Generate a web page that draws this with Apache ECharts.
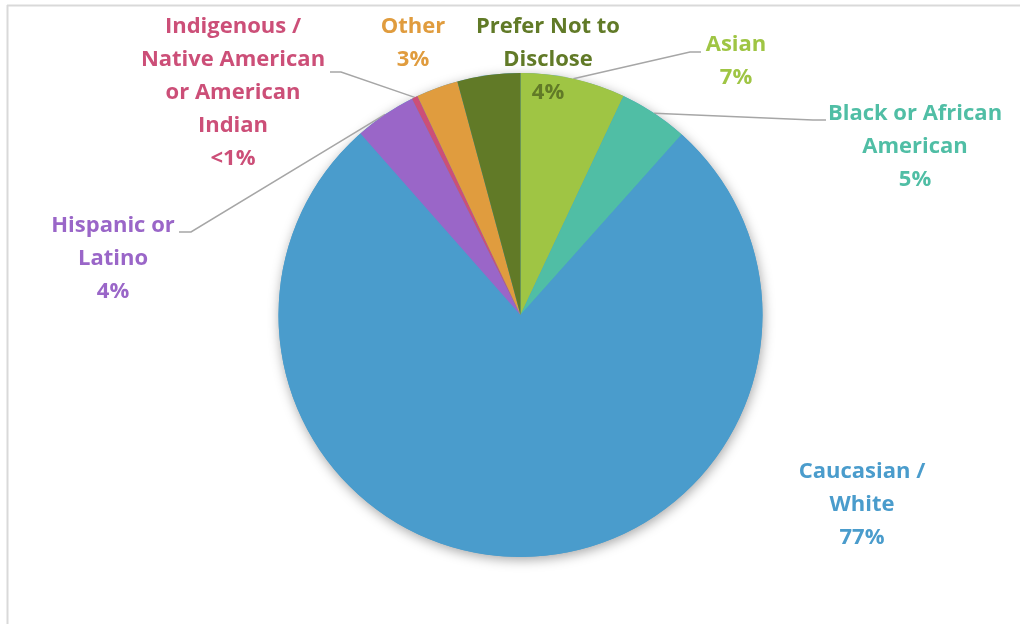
<!DOCTYPE html>
<html>
<head>
<meta charset="utf-8">
<title>Race / Ethnicity</title>
<script src="https://cdn.jsdelivr.net/npm/echarts@6/dist/echarts.min.js"></script>
<style>
  html, body { margin: 0; padding: 0; background: #ffffff; }
  #chart { width: 1020px; height: 624px; }
</style>
</head>
<body>
<div id="chart"></div>
<script>
// Groups in clockwise order starting at 12 o'clock
const categories = [
  'Asian',
  'Black or African American',
  'Caucasian / White',
  'Hispanic or Latino',
  'Indigenous / Native American or American Indian',
  'Other',
  'Prefer Not to Disclose'
];
// Share of respondents, percent
const shares = [7.0, 4.6, 76.9, 4.1, 0.4, 2.8, 4.2];
// Label wording with its line breaks
const labelTexts = [
  'Asian',
  'Black or African\nAmerican',
  'Caucasian /\nWhite',
  'Hispanic or\nLatino',
  'Indigenous /\nNative American\nor American\nIndian',
  'Other',
  'Prefer Not to\nDisclose'
];
const sliceColors = ['#9fc544', '#50bea5', '#4a9ccc', '#9a66c8', '#cc4f78', '#e09c3e', '#617a27'];

// Where each label block sits (centre of the text block)
const labelSpots = {
  'Asian': { x: 736, y: 61.5 },
  'Black or African American': { x: 915, y: 146.5 },
  'Caucasian / White': { x: 862, y: 504.5 },
  'Hispanic or Latino': { x: 113, y: 258.5 },
  'Indigenous / Native American or American Indian': { x: 233, y: 92.5 },
  'Other': { x: 413, y: 43 },
  'Prefer Not to Disclose': { x: 548, y: 59.5 }
};
// Elbow and end of each leader line (starting point comes from the slice edge)
const leaderEnds = {
  'Asian': [[690, 52], [701, 52]],
  'Black or African American': [[813, 120], [826, 120]],
  'Hispanic or Latino': [[191, 232], [179, 232]],
  'Indigenous / Native American or American Indian': [[341, 72], [330, 72]]
};

const FONT = '"Open Sans", Lato, sans-serif';

function pctText(p) {
  return p < 1 ? '<1%' : Math.round(p) + '%';
}

const data = categories.map((name, i) => ({
  name: name,
  value: shares[i],
  itemStyle: { color: sliceColors[i] },
  label: {
    color: sliceColors[i],
    formatter: (params) => labelTexts[i] + '\n' + pctText(params.percent)
  },
  labelLine: { show: !!leaderEnds[name] }
}));

const chart = echarts.init(document.getElementById('chart'), null, { renderer: 'canvas' });

chart.setOption({
  backgroundColor: '#ffffff',
  animation: false,
  graphic: [
    { type: 'line', shape: { x1: 7, y1: 5.5, x2: 1020, y2: 5.5 }, style: { stroke: '#d9d9d9', lineWidth: 2 }, silent: true },
    { type: 'line', shape: { x1: 7.5, y1: 5, x2: 7.5, y2: 624 }, style: { stroke: '#d9d9d9', lineWidth: 2 }, silent: true }
  ],
  series: [
    {
      // soft drop shadow under the whole disc
      type: 'pie',
      silent: true,
      center: [520.5, 315],
      radius: 242,
      z: 1,
      label: { show: false },
      labelLine: { show: false },
      itemStyle: {
        color: '#4a9ccc',
        shadowBlur: 12,
        shadowColor: 'rgba(0,0,0,0.35)',
        shadowOffsetX: 1,
        shadowOffsetY: 3
      },
      data: [{ value: 1, name: '' }]
    },
    {
      type: 'pie',
      center: [520.5, 315],
      radius: 242,
      z: 2,
      startAngle: 90,
      clockwise: true,
      avoidLabelOverlap: false,
      itemStyle: { borderWidth: 0 },
      label: {
        show: true,
        position: 'outside',
        fontFamily: FONT,
        fontWeight: 'bold',
        fontSize: 22,
        lineHeight: 33,
        align: 'center'
      },
      labelLine: {
        show: true,
        length: 20,
        length2: 20,
        lineStyle: { color: '#a6a6a6', width: 1.5 }
      },
      labelLayout: function (params) {
        const name = categories[params.dataIndex];
        const spot = labelSpots[name];
        const out = { x: spot.x, y: spot.y, align: 'center', verticalAlign: 'middle' };
        const ends = leaderEnds[name];
        if (ends && params.labelLinePoints) {
          out.labelLinePoints = [params.labelLinePoints[0], ends[0], ends[1]];
        }
        return out;
      },
      data: data
    }
  ]
});
</script>
</body>
</html>
